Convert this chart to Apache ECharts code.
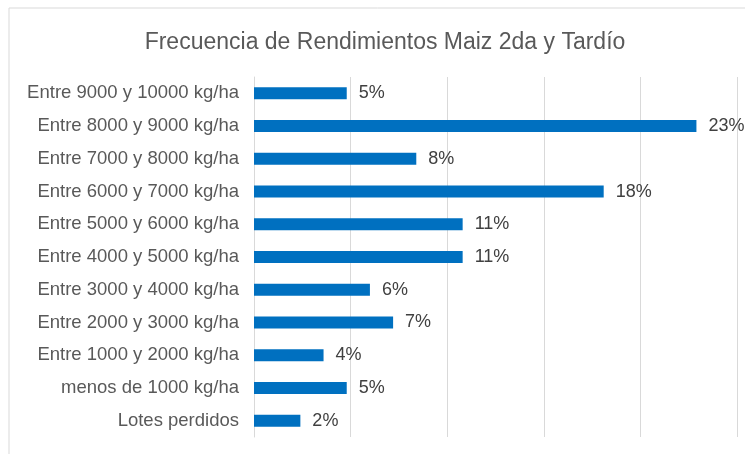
<!DOCTYPE html>
<html>
<head>
<meta charset="utf-8">
<script src="https://cdn.jsdelivr.net/npm/echarts@6/dist/echarts.min.js"></script>
<style>html,body{margin:0;padding:0;background:#fff;}#c{width:745px;height:454px;}</style>
</head>
<body>
<div id="c"></div>
<script>
var titleText = 'Frecuencia de Rendimientos Maiz 2da y Tardío';
var categories = [
  'Lotes perdidos',
  'menos de 1000 kg/ha',
  'Entre 1000 y 2000 kg/ha',
  'Entre 2000 y 3000 kg/ha',
  'Entre 3000 y 4000 kg/ha',
  'Entre 4000 y 5000 kg/ha',
  'Entre 5000 y 6000 kg/ha',
  'Entre 6000 y 7000 kg/ha',
  'Entre 7000 y 8000 kg/ha',
  'Entre 8000 y 9000 kg/ha',
  'Entre 9000 y 10000 kg/ha'
];
var values = [2.4, 4.8, 3.6, 7.2, 6.0, 10.8, 10.8, 18.1, 8.4, 22.9, 4.8];

var chart = echarts.init(document.getElementById('c'), null, {renderer: 'canvas'});
chart.setOption({
  animation: false,
  backgroundColor: '#ffffff',
  graphic: [{
    type: 'rect', shape: {x: 9, y: 8, width: 760, height: 470},
    style: {fill: 'none', stroke: '#d9d9d9', lineWidth: 1}, silent: true
  }],
  title: {
    text: titleText, left: 380, top: 26, textAlign: 'center',
    textStyle: {fontFamily: 'Liberation Sans', fontSize: 23, fontWeight: 'normal', color: '#595959'}
  },
  grid: {left: 254, right: 8, top: 77, height: 360, containLabel: false},
  xAxis: {
    type: 'value', min: 0, max: 25, interval: 5,
    axisLabel: {show: false}, axisLine: {show: false}, axisTick: {show: false},
    splitLine: {show: true, lineStyle: {color: '#d9d9d9', width: 1}}
  },
  yAxis: {
    type: 'category', data: categories,
    axisLine: {show: true, lineStyle: {color: '#d9d9d9'}}, axisTick: {show: false},
    axisLabel: {fontFamily: 'Liberation Sans', fontSize: 18.5, color: '#595959', margin: 15}
  },
  series: [{
    type: 'bar', data: values, barWidth: 12,
    itemStyle: {color: '#0070C0'},
    label: {
      show: true, position: 'right', distance: 12,
      fontFamily: 'Liberation Sans', fontSize: 18, color: '#404040',
      formatter: function(p){ return Math.round(p.value) + '%'; }
    }
  }]
});
</script>
</body>
</html>
